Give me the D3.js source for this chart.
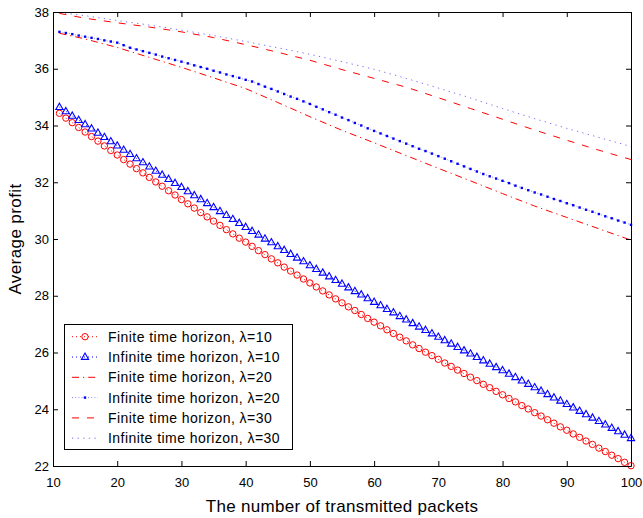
<!DOCTYPE html>
<html><head><meta charset="utf-8">
<script src="https://cdn.jsdelivr.net/npm/d3@7"></script>
<style>
body{margin:0;background:#fff}
text{font-family:"Liberation Sans",Arial,Helvetica,sans-serif;fill:#000}
</style>
</head><body>
<svg id="chart" width="643" height="518"></svg>
<script>
// ---- data ----
const packets = [11,12,13,14,15,16,17,18,19,20,21,22,23,24,25,26,27,28,29,30,
  31,32,33,34,35,36,37,38,39,40,41,42,43,44,45,46,47,48,49,50,
  51,52,53,54,55,56,57,58,59,60,61,62,63,64,65,66,67,68,69,70,
  71,72,73,74,75,76,77,78,79,80,81,82,83,84,85,86,87,88,89,90,
  91,92,93,94,95,96,97,98,99,100];
const finite10 = [34.43,34.26,34.10,33.93,33.77,33.61,33.45,33.28,33.12,32.96,
  32.80,32.64,32.48,32.33,32.17,32.01,31.86,31.70,31.55,31.39,
  31.24,31.09,30.93,30.78,30.63,30.48,30.33,30.18,30.03,29.89,
  29.74,29.59,29.45,29.30,29.16,29.01,28.87,28.73,28.59,28.45,
  28.31,28.17,28.03,27.89,27.75,27.61,27.48,27.34,27.20,27.07,
  26.94,26.80,26.67,26.54,26.41,26.27,26.14,26.01,25.89,25.76,
  25.63,25.51,25.38,25.26,25.13,25.01,24.88,24.76,24.63,24.51,
  24.38,24.26,24.13,24.01,23.88,23.76,23.63,23.51,23.38,23.26,
  23.13,23.01,22.88,22.76,22.63,22.51,22.38,22.26,22.13,22.01];
const infinite10 = [34.65,34.50,34.34,34.19,34.04,33.89,33.74,33.59,33.44,33.29,
  33.14,32.99,32.84,32.70,32.55,32.40,32.26,32.11,31.97,31.83,
  31.68,31.54,31.40,31.26,31.12,30.98,30.84,30.70,30.56,30.42,
  30.28,30.15,30.01,29.88,29.74,29.61,29.47,29.34,29.21,29.07,
  28.94,28.81,28.68,28.55,28.42,28.29,28.16,28.04,27.91,27.78,
  27.66,27.53,27.41,27.28,27.16,27.03,26.91,26.79,26.67,26.55,
  26.43,26.31,26.19,26.07,25.96,25.84,25.72,25.60,25.48,25.37,
  25.25,25.13,25.01,24.89,24.77,24.65,24.53,24.41,24.30,24.18,
  24.06,23.94,23.82,23.70,23.58,23.46,23.34,23.22,23.10,22.98];
const infinite20 = [37.30,37.26,37.22,37.17,37.13,37.09,37.05,37.00,36.96,36.92,
  36.83,36.74,36.68,36.62,36.56,36.50,36.43,36.37,36.31,36.25,
  36.19,36.12,36.06,36.00,35.93,35.87,35.80,35.74,35.68,35.61,
  35.55,35.46,35.37,35.29,35.20,35.11,35.02,34.94,34.85,34.76,
  34.66,34.57,34.47,34.38,34.28,34.19,34.09,34.00,33.90,33.81,
  33.72,33.63,33.54,33.45,33.36,33.27,33.18,33.10,33.01,32.92,
  32.83,32.74,32.65,32.56,32.47,32.38,32.29,32.21,32.13,32.05,
  31.97,31.88,31.80,31.72,31.64,31.57,31.49,31.41,31.34,31.26,
  31.19,31.11,31.03,30.96,30.88,30.80,30.73,30.65,30.58,30.50];
const linePackets = [11,15,20,25,30,35,40,45,50,55,60,65,70,75,80,85,90,95,100];
const finite20   = [37.25,37.05,36.75,36.40,36.05,35.68,35.30,34.81,34.31,33.83,33.39,32.94,32.49,32.05,31.60,31.16,30.76,30.36,29.96];
const finite30   = [37.95,37.78,37.62,37.47,37.30,37.10,36.85,36.58,36.30,35.97,35.66,35.35,34.98,34.60,34.22,33.84,33.48,33.13,32.80];
const infinite30 = [37.98,37.87,37.70,37.54,37.36,37.17,36.96,36.74,36.51,36.25,35.98,35.66,35.32,34.97,34.60,34.24,33.90,33.58,33.26];
const xTicks = [10,20,30,40,50,60,70,80,90,100];
const yTicks = [22,24,26,28,30,32,34,36,38];
const legendLabels = ["Finite time horizon, \u03bb=10","Infinite time horizon, \u03bb=10",
  "Finite time horizon, \u03bb=20","Infinite time horizon, \u03bb=20",
  "Finite time horizon, \u03bb=30","Infinite time horizon, \u03bb=30"];
const xLabel = "The number of transmitted packets";
const yLabel = "Average profit";

// ---- layout ----
const L = 53, R = 631, T = 12, B = 466;
const svg = d3.select("#chart");
svg.append("rect").attr("width",643).attr("height",518).attr("fill","#fff");

const x = d3.scaleLinear().domain([10,100]).range([L,R]);
const y = d3.scaleLinear().domain([22,38]).range([B,T]);

const zip = (xs, ys) => xs.map((v,i)=>[v, ys[i]]);
const series = [
  {label:legendLabels[0], pts:zip(packets,finite10),   color:"#ff0000", dash:"1,3",     op:1,   marker:"circle"},
  {label:legendLabels[1], pts:zip(packets,infinite10), color:"#0000ff", dash:"1,3",     op:1,   marker:"triangle"},
  {label:legendLabels[2], pts:zip(linePackets,finite20), color:"#ff0000", dash:"7,4,1.2,4", op:1, marker:null},
  {label:legendLabels[3], pts:zip(packets,infinite20), color:"#0000ff", dash:"1,2.2",   op:0.45, marker:"dot"},
  {label:legendLabels[4], pts:zip(linePackets,finite30), color:"#ff0000", dash:"7,8",   op:1,   marker:null},
  {label:legendLabels[5], pts:zip(linePackets,infinite30), color:"#0000ff", dash:"1.3,4.3", op:0.55, marker:null}
];

const line = d3.line().x(d=>x(d[0])).y(d=>y(d[1]));
const triPath = "M0,-3.9L3.6,2.4L-3.6,2.4Z";

function drawMarker(g, type, color, cx, cy){
  if(type==="circle"){
    g.append("circle").attr("cx",cx).attr("cy",cy).attr("r",3.2)
      .attr("fill","none").attr("stroke",color).attr("stroke-width",1);
  } else if(type==="triangle"){
    g.append("path").attr("d",triPath).attr("transform",`translate(${cx},${cy})`)
      .attr("fill","none").attr("stroke",color).attr("stroke-width",1.1);
  } else if(type==="dot"){
    g.append("rect").attr("x",cx-1.2).attr("y",cy-1.2).attr("width",2.4).attr("height",2.4)
      .attr("fill",color);
  }
}

const plot = svg.append("g");
series.forEach(s=>{
  plot.append("path").attr("d",line(s.pts)).attr("fill","none")
    .attr("stroke",s.color).attr("stroke-opacity",s.op).attr("stroke-width",1)
    .attr("stroke-dasharray",s.dash);
  if(s.marker){
    const g = plot.append("g");
    s.pts.forEach(p=>drawMarker(g, s.marker, s.color, x(p[0]), y(p[1])));
  }
});

// ---- axes (box with inward ticks) ----
function styleAxis(g){
  g.selectAll("path.domain").attr("stroke","#000").attr("stroke-width",1).attr("fill","none");
  g.selectAll(".tick line").attr("stroke","#000").attr("stroke-width",1);
  g.selectAll("text").style("font-size","13px").attr("fill","#000");
}
svg.append("g").attr("transform",`translate(0,${B})`)
  .call(d3.axisBottom(x).tickValues(xTicks).tickSizeInner(-5).tickSizeOuter(0).tickPadding(12))
  .call(styleAxis);
svg.append("g").attr("transform",`translate(0,${T})`)
  .call(d3.axisTop(x).tickValues(xTicks).tickSizeInner(-5).tickSizeOuter(0).tickFormat(""))
  .call(styleAxis);
svg.append("g").attr("transform",`translate(${L},0)`)
  .call(d3.axisLeft(y).tickValues(yTicks).tickSizeInner(-5).tickSizeOuter(0).tickPadding(4))
  .call(styleAxis);
svg.append("g").attr("transform",`translate(${R},0)`)
  .call(d3.axisRight(y).tickValues(yTicks).tickSizeInner(-5).tickSizeOuter(0).tickFormat(""))
  .call(styleAxis);

// axis labels
svg.append("text").attr("x",(L+R)/2).attr("y",512).attr("text-anchor","middle")
  .style("font-size","17px").style("letter-spacing","0.3px").text(xLabel);
svg.append("text").attr("transform",`translate(21,${(T+B)/2}) rotate(-90)`).attr("text-anchor","middle")
  .style("font-size","17px").style("letter-spacing","0.4px").text(yLabel);

// ---- legend ----
const lg = svg.append("g");
lg.append("rect").attr("x",64.5).attr("y",324.5).attr("width",228).attr("height",125)
  .attr("fill","#fff").attr("stroke","#000").attr("stroke-width",1);
series.forEach((s,i)=>{
  const cy = 336.7 + i*20.3;
  lg.append("line").attr("x1",72).attr("x2",98).attr("y1",cy).attr("y2",cy)
    .attr("stroke",s.color).attr("stroke-opacity",s.op).attr("stroke-width",1)
    .attr("stroke-dasharray",s.dash);
  if(s.marker) drawMarker(lg, s.marker, s.color, 85, cy);
  lg.append("text").attr("x",108).attr("y",cy).attr("dy","0.36em")
    .style("font-size","14px").style("letter-spacing","0.45px").text(s.label);
});
</script>
</body></html>
